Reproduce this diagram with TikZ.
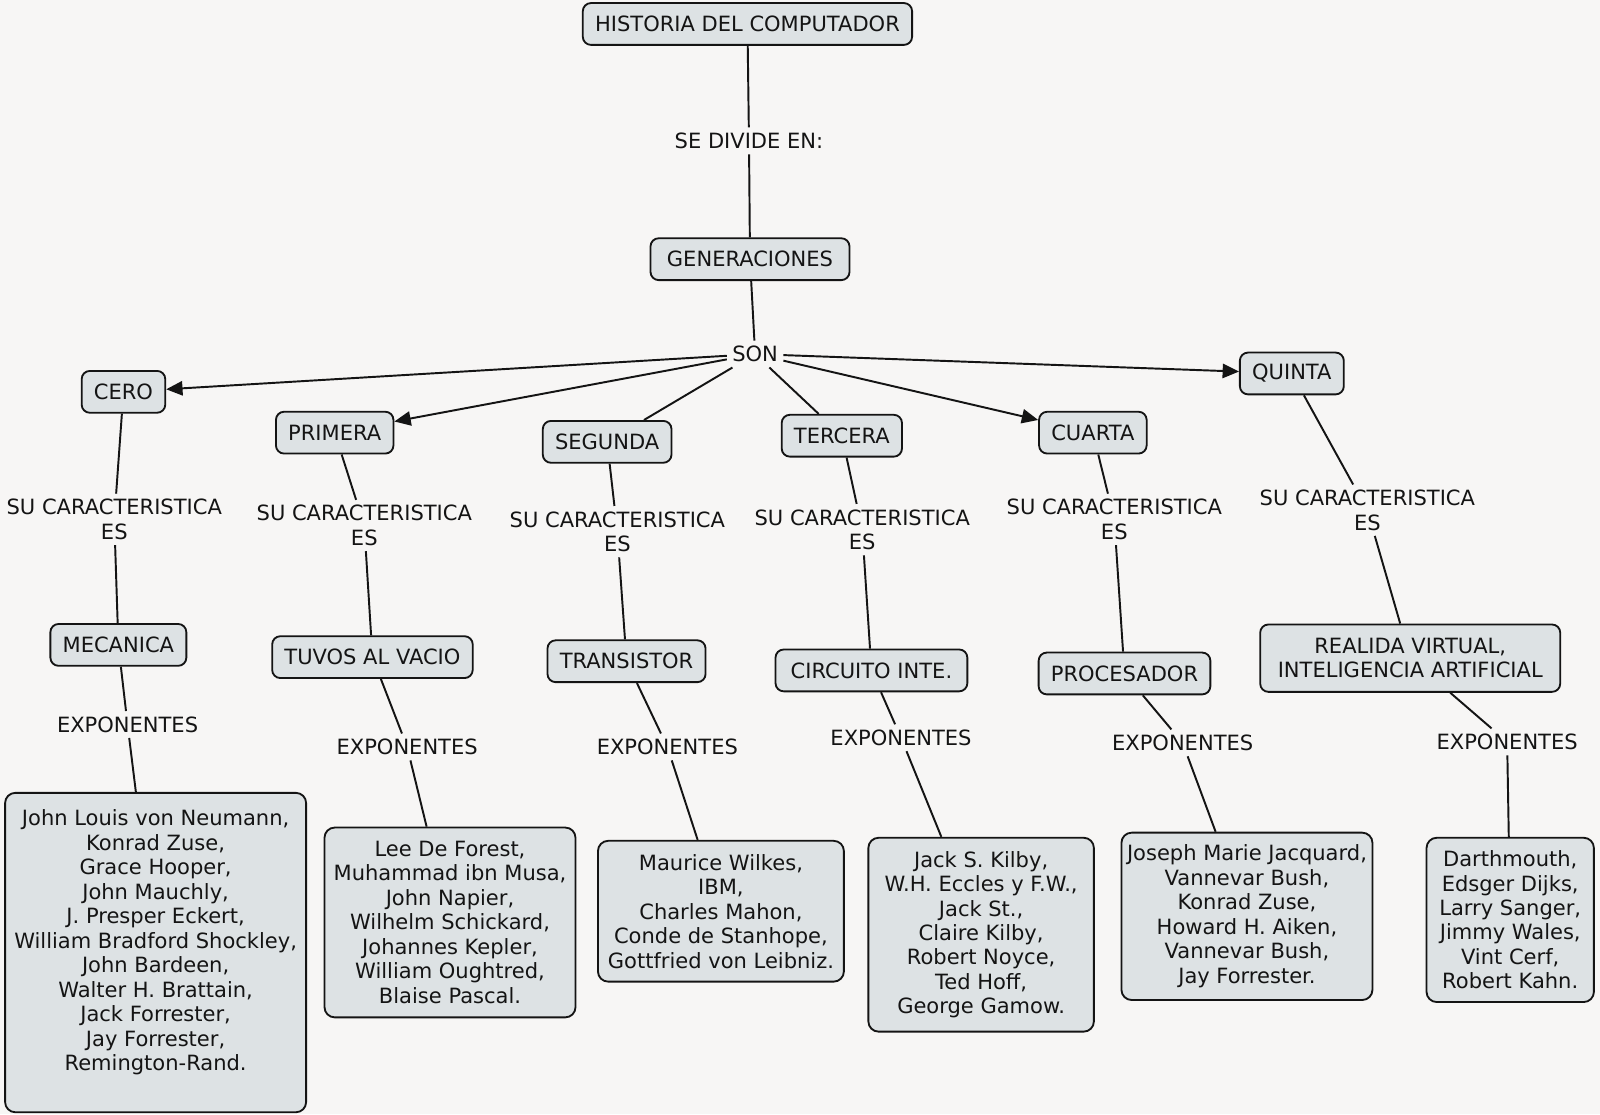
\documentclass[tikz,border=0pt]{standalone}
\usepackage{fontspec}
\setmainfont{DejaVu Sans}
\usetikzlibrary{arrows.meta}
\definecolor{boxfill}{RGB}{221,226,228}
\definecolor{paper}{RGB}{247,246,245}
\definecolor{ink}{RGB}{20,20,20}

\begin{document}
\begin{tikzpicture}[x=0.5pt, y=-0.5pt,
 every node/.style={font=\fontsize{10.3}{12}\selectfont, text=ink},
 concept/.style={rectangle, rounded corners=4pt, draw=ink, line width=0.9pt, fill=boxfill, inner xsep=6pt, inner ysep=0pt, minimum height=20.5pt, align=center},
 names/.style={rectangle, rounded corners=5pt, draw=ink, line width=0.9pt, fill=boxfill, inner sep=0pt, align=center},
 phrase/.style={inner sep=2.5pt, align=center},
 link/.style={line width=0.95pt, draw=ink},
 arrow/.style={link, -{Triangle[length=8pt, width=7pt]}}]

\fill[paper] (0,0) rectangle (1568,1092);
\useasboundingbox (0,0) rectangle (1568,1092);

\node[concept] (hist) at (732.5, 23.5) {HISTORIA DEL COMPUTADOR};
\node[phrase] (divide) at (734, 138) {SE DIVIDE EN:};
\node[concept, minimum width=97.5pt] (gen) at (735, 254) {GENERACIONES};
\node[phrase] (son) at (740, 347) {SON};

\draw (hist) edge[link] (divide);
\draw (divide) edge[link] (gen);
\draw (gen) edge[link] (son);

\node[concept] (cero) at (121, 384) {CERO};
\node[concept] (primera) at (328, 424) {PRIMERA};
\node[concept] (segunda) at (595, 433) {SEGUNDA};
\node[concept] (tercera) at (825, 427) {TERCERA};
\node[concept] (cuarta) at (1071, 424) {CUARTA};
\node[concept] (quinta) at (1266, 366) {QUINTA};

\draw (son) edge[arrow] (cero);
\draw (son) edge[arrow] (primera);
\draw (son) edge[link] (segunda);
\draw (son) edge[link] (tercera);
\draw (son) edge[arrow] (cuarta);
\draw (son) edge[arrow] (quinta);

\node[phrase] (es0) at (112, 509) {SU CARACTERISTICA\\ES};
\node[phrase] (es1) at (357, 515) {SU CARACTERISTICA\\ES};
\node[phrase] (es2) at (605, 521) {SU CARACTERISTICA\\ES};
\node[phrase] (es3) at (845, 519) {SU CARACTERISTICA\\ES};
\node[phrase] (es4) at (1092, 509) {SU CARACTERISTICA\\ES};
\node[phrase] (es5) at (1340, 500) {SU CARACTERISTICA\\ES};

\node[concept] (mecanica) at (116, 632) {MECANICA};
\node[concept] (tuvos) at (365, 644) {TUVOS AL VACIO};
\node[concept] (transistor) at (614, 648) {TRANSISTOR};
\node[concept, minimum width=94pt] (circuito) at (854, 657) {CIRCUITO INTE.};
\node[concept] (procesador) at (1102, 660) {PROCESADOR};
\node[concept, minimum width=147pt, minimum height=33pt] (realida) at (1382, 645) {REALIDA VIRTUAL,\\INTELIGENCIA ARTIFICIAL};

\draw (cero) edge[link] (es0);
\draw (primera) edge[link] (es1);
\draw (segunda) edge[link] (es2);
\draw (tercera) edge[link] (es3);
\draw (cuarta) edge[link] (es4);
\draw (quinta) edge[link] (es5);

\draw (es0) edge[link] (mecanica);
\draw (es1) edge[link] (tuvos);
\draw (es2) edge[link] (transistor);
\draw (es3) edge[link] (circuito);
\draw (es4) edge[link] (procesador);
\draw (es5) edge[link] (realida);

\node[phrase] (exp0) at (125, 710) {EXPONENTES};
\node[phrase] (exp1) at (399, 732) {EXPONENTES};
\node[phrase] (exp2) at (654, 732) {EXPONENTES};
\node[phrase] (exp3) at (883, 723) {EXPONENTES};
\node[phrase] (exp4) at (1159, 728) {EXPONENTES};
\node[phrase] (exp5) at (1477, 727) {EXPONENTES};

\draw (mecanica) edge[link] (exp0);
\draw (tuvos) edge[link] (exp1);
\draw (transistor) edge[link] (exp2);
\draw (circuito) edge[link] (exp3);
\draw (procesador) edge[link] (exp4);
\draw (realida) edge[link] (exp5);

\node[names, minimum width=147.5pt, minimum height=156.5pt] (names0) at (152.5, 933.5) {John Louis von Neumann,\\Konrad Zuse,\\Grace Hooper,\\John Mauchly,\\J. Presper Eckert,\\William Bradford Shockley,\\John Bardeen,\\Walter H. Brattain,\\Jack Forrester,\\Jay Forrester,\\Remington-Rand.\\ \mbox{}};
\node[names, minimum width=123pt, minimum height=93pt] (names1) at (441, 904) {Lee De Forest,\\Muhammad ibn Musa,\\John Napier,\\Wilhelm Schickard,\\Johannes Kepler,\\William Oughtred,\\Blaise Pascal.};
\node[names, minimum width=120.5pt, minimum height=69pt] (names2) at (706.5, 893) {Maurice Wilkes,\\IBM,\\Charles Mahon,\\Conde de Stanhope,\\Gottfried von Leibniz.};
\node[names, minimum width=110.5pt, minimum height=95pt] (names3) at (961.5, 916) {Jack S. Kilby,\\W.H. Eccles y F.W.,\\Jack St.,\\Claire Kilby,\\Robert Noyce,\\Ted Hoff,\\George Gamow.};
\node[names, minimum width=123pt, minimum height=82pt] (names4) at (1222, 898) {Joseph Marie Jacquard,\\Vannevar Bush,\\Konrad Zuse,\\Howard H. Aiken,\\Vannevar Bush,\\Jay Forrester.};
\node[names, minimum width=82pt, minimum height=80.5pt] (names5) at (1480, 901.5) {Darthmouth,\\Edsger Dijks,\\Larry Sanger,\\Jimmy Wales,\\Vint Cerf,\\Robert Kahn.};

\draw (exp0) edge[link] (names0);
\draw (exp1) edge[link] (names1);
\draw (exp2) edge[link] (names2);
\draw (exp3) edge[link] (names3);
\draw (exp4) edge[link] (names4);
\draw (exp5) edge[link] (names5);

\end{tikzpicture}
\end{document}
